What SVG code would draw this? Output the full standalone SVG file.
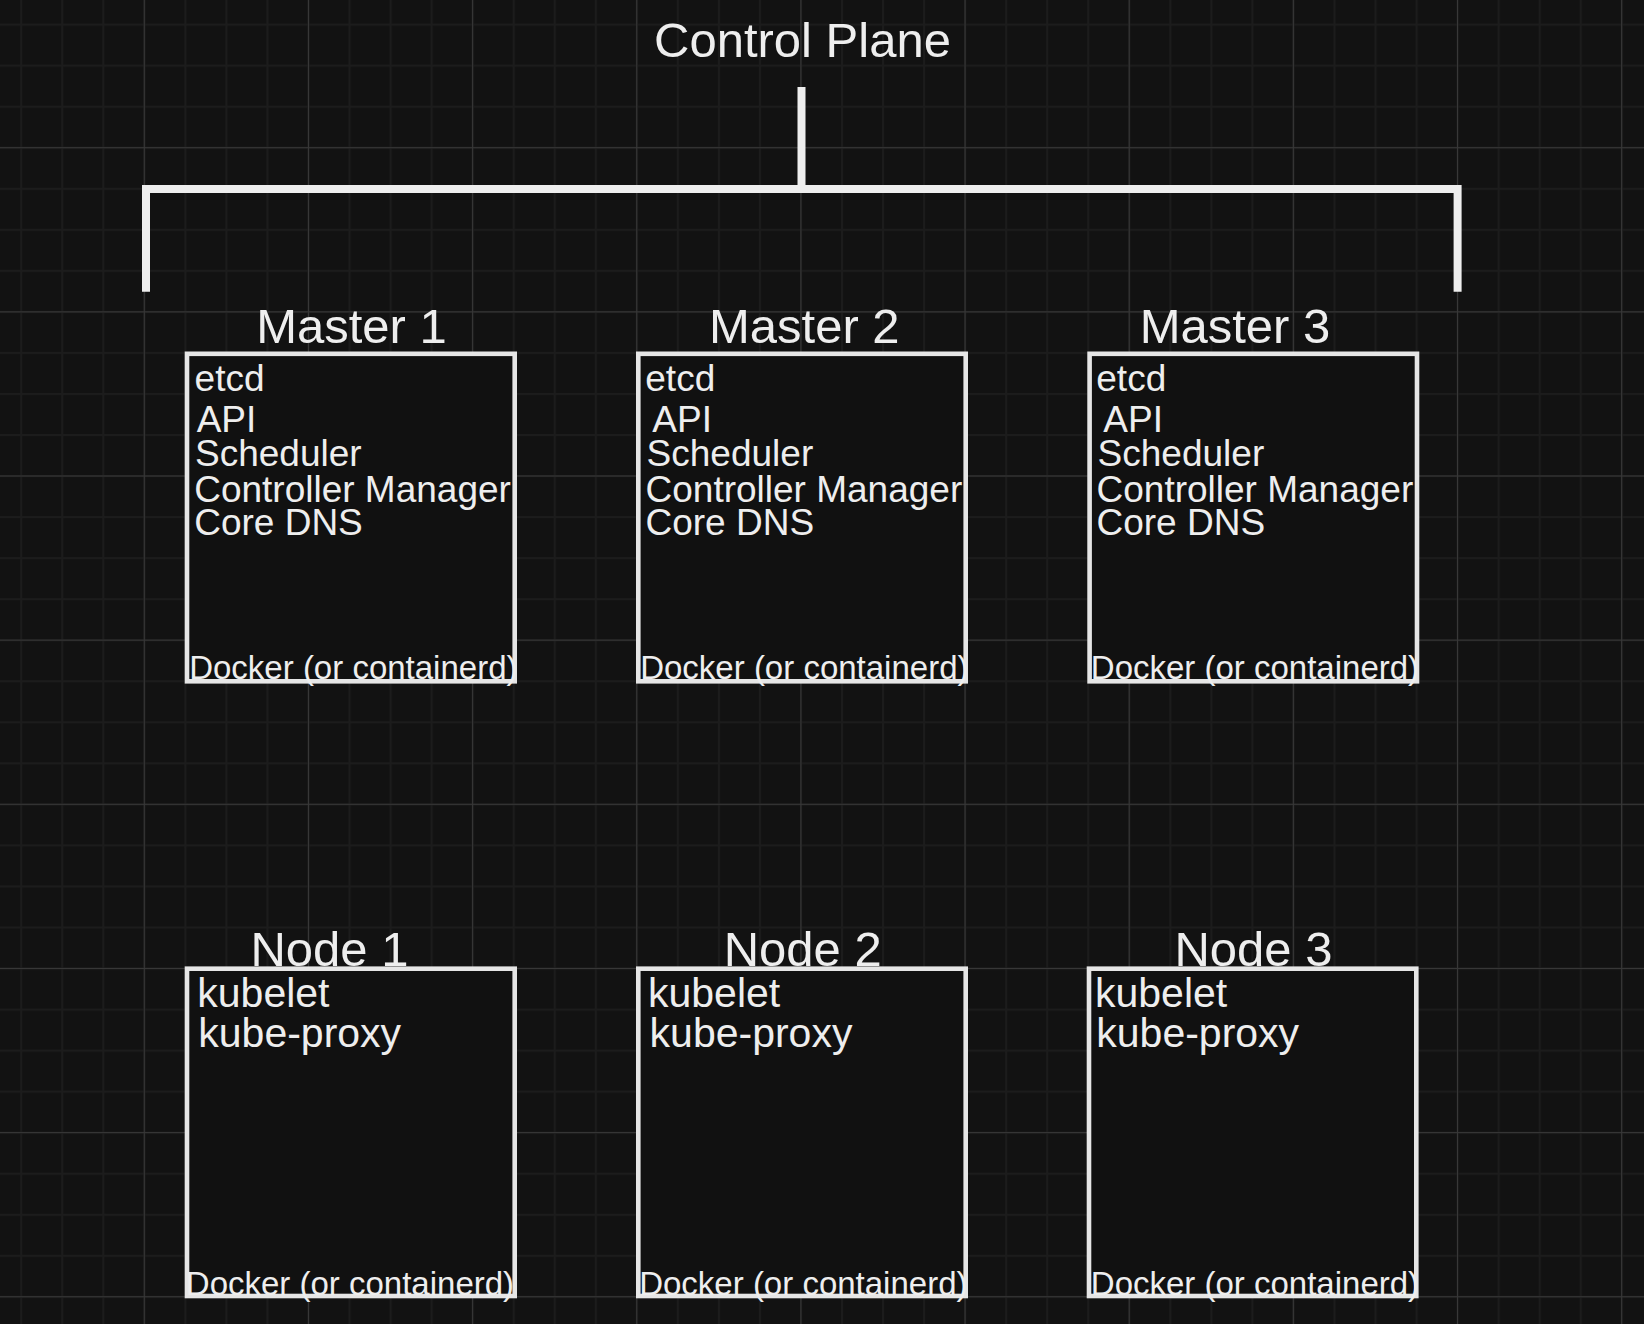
<svg xmlns="http://www.w3.org/2000/svg" width="1644" height="1324" viewBox="0 0 1644 1324">
  <defs>
    <pattern id="minor" patternUnits="userSpaceOnUse" x="20.2" y="23.6" width="41.04" height="41.04">
      <rect x="0" y="0" width="2" height="41.04" fill="#1c1c1c"/>
      <rect x="0" y="0" width="41.04" height="2" fill="#1c1c1c"/>
    </pattern>
    <pattern id="major" patternUnits="userSpaceOnUse" x="143.8" y="147.2" width="164.15" height="164.15">
      <rect x="0" y="0" width="1" height="164.15" fill="#383838"/>
      <rect x="0" y="0" width="164.15" height="1" fill="#383838"/>
    </pattern>
    <style>
      .txt { font-family: "Liberation Sans", Arial, Helvetica, sans-serif; fill: #eeeeee; }
      .title { font-size: 49px; text-anchor: middle; }
      .label { font-size: 49px; text-anchor: middle; }
      .item { font-size: 37px; }
      .nitem { font-size: 41px; }
      .rt { font-size: 33px; }
      .box { fill: #111111; stroke: #e6e6e6; stroke-width: 4.6; }
      .bracket { fill: none; stroke: #eeeeee; stroke-width: 8; stroke-linejoin: miter; stroke-linecap: butt; }
    </style>
  </defs>

  <rect x="0" y="0" width="1644" height="1324" fill="#121212"/>
  <rect x="0" y="0" width="1644" height="1324" fill="url(#minor)"/>
  <rect x="0" y="0" width="1644" height="1324" fill="url(#major)"/>

  <text id="control-plane" class="txt title" x="802.5" y="56.7">Control Plane</text>

  <g id="connectors">
    <path class="bracket" d="M801.5,87 V189"/>
    <path class="bracket" d="M146,291.7 V189 H1457.6 V291.7"/>
  </g>

  <g id="master1">
    <text class="txt label" x="351.5" y="343.3">Master 1</text>
    <rect class="box" x="187" y="353.8" width="327.7" height="327.5"/>
    <text class="txt item" x="194.6" y="390.7">etcd</text>
    <text class="txt item" x="196.7" y="431.7">API</text>
    <text class="txt item" x="195" y="465.7">Scheduler</text>
    <text class="txt item" x="194.2" y="501.7">Controller Manager</text>
    <text class="txt item" x="194.2" y="535">Core DNS</text>
    <text class="txt rt" x="189.2" y="678.5">Docker (or containerd)</text>
  </g>

  <g id="master2">
    <text class="txt label" x="804.3" y="343.3">Master 2</text>
    <rect class="box" x="638.3" y="353.8" width="327.4" height="327.5"/>
    <text class="txt item" x="645.3" y="390.7">etcd</text>
    <text class="txt item" x="652.3" y="431.7">API</text>
    <text class="txt item" x="646.6" y="465.7">Scheduler</text>
    <text class="txt item" x="645.5" y="501.7">Controller Manager</text>
    <text class="txt item" x="645.5" y="535">Core DNS</text>
    <text class="txt rt" x="640.2" y="678.5">Docker (or containerd)</text>
  </g>

  <g id="master3">
    <text class="txt label" x="1235" y="343.3">Master 3</text>
    <rect class="box" x="1089.6" y="353.8" width="327.4" height="327.5"/>
    <text class="txt item" x="1096.3" y="390.7">etcd</text>
    <text class="txt item" x="1103.3" y="431.7">API</text>
    <text class="txt item" x="1097.6" y="465.7">Scheduler</text>
    <text class="txt item" x="1096.5" y="501.7">Controller Manager</text>
    <text class="txt item" x="1096.5" y="535">Core DNS</text>
    <text class="txt rt" x="1090.8" y="678.8">Docker (or containerd)</text>
  </g>

  <g id="node1">
    <text class="txt label" x="329.5" y="966">Node 1</text>
    <rect class="box" x="187" y="968.7" width="327.7" height="327.3"/>
    <text class="txt nitem" x="197.3" y="1006.7">kubelet</text>
    <text class="txt nitem" x="198.3" y="1046.7">kube-proxy</text>
    <text class="txt rt" x="185.8" y="1294.5">Docker (or containerd)</text>
  </g>

  <g id="node2">
    <text class="txt label" x="802.7" y="966">Node 2</text>
    <rect class="box" x="638.3" y="968.7" width="327.4" height="327.3"/>
    <text class="txt nitem" x="648" y="1006.7">kubelet</text>
    <text class="txt nitem" x="649.6" y="1046.7">kube-proxy</text>
    <text class="txt rt" x="639.2" y="1294.5">Docker (or containerd)</text>
  </g>

  <g id="node3">
    <text class="txt label" x="1253.5" y="966">Node 3</text>
    <rect class="box" x="1089" y="968.7" width="327.3" height="327.3"/>
    <text class="txt nitem" x="1095" y="1006.7">kubelet</text>
    <text class="txt nitem" x="1096.3" y="1046.7">kube-proxy</text>
    <text class="txt rt" x="1090.8" y="1294.5">Docker (or containerd)</text>
  </g>
</svg>
